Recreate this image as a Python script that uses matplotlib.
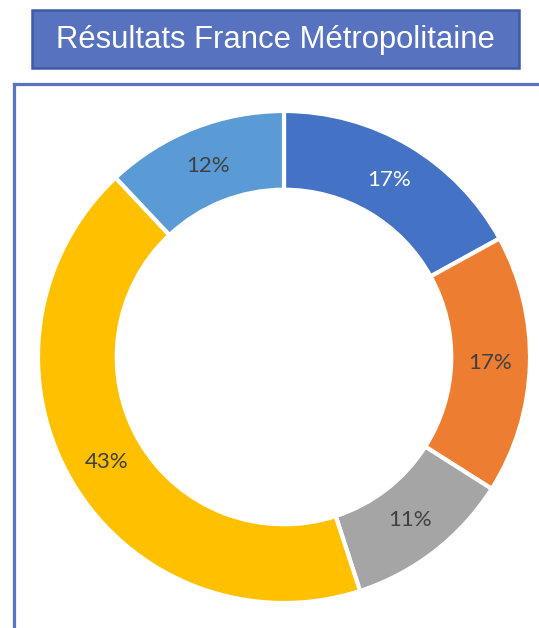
import matplotlib.pyplot as plt
from matplotlib.patches import Rectangle

labels = ["A", "B", "C", "D", "E"]
shares = [17, 17, 11, 43, 12]
colors = ["#4472C4", "#ED7D31", "#A5A5A5", "#FFC000", "#5B9BD5"]
label_colors = ["white", "#404040", "#404040", "#404040", "#404040"]
title = "Résultats France Métropolitaine"

W, H = 539, 628
fig = plt.figure(figsize=(W / 100, H / 100), dpi=100)
fig.patch.set_facecolor("white")

# background layer in pixel units for the frame and title banner
bg = fig.add_axes([0, 0, 1, 1])
bg.set_xlim(0, W)
bg.set_ylim(H, 0)
bg.axis("off")

frame_col = "#5A72C2"
bg.plot([13.5, 13.5], [H, 83.5], color=frame_col, lw=2.3, solid_capstyle="projecting")
bg.plot([13.5, W], [83.5, 83.5], color=frame_col, lw=2.3, solid_capstyle="projecting")

bg.add_patch(Rectangle((32, 10), 487, 58, facecolor="#5773C0",
                       edgecolor="#3F5AA6", lw=1.8))
bg.text(275.5, 40, title, color="white", fontsize=22.3,
        family="Liberation Sans", ha="center", va="center")

# donut
cx, cy, r = 284, 357, 246
ax = fig.add_axes([(cx - r) / W, (H - cy - r) / H, 2 * r / W, 2 * r / H])
wedges, texts, autotexts = ax.pie(
    shares, colors=colors, startangle=90, counterclock=False,
    autopct="%d%%", pctdistance=0.837,
    wedgeprops=dict(width=0.32, edgecolor="white", linewidth=3),
    textprops=dict(fontsize=16, family="Lato"),
)
for t, c in zip(autotexts, label_colors):
    t.set_color(c)
ax.set_xlim(-1, 1)
ax.set_ylim(-1, 1)

fig.savefig("out.png", dpi=100)
